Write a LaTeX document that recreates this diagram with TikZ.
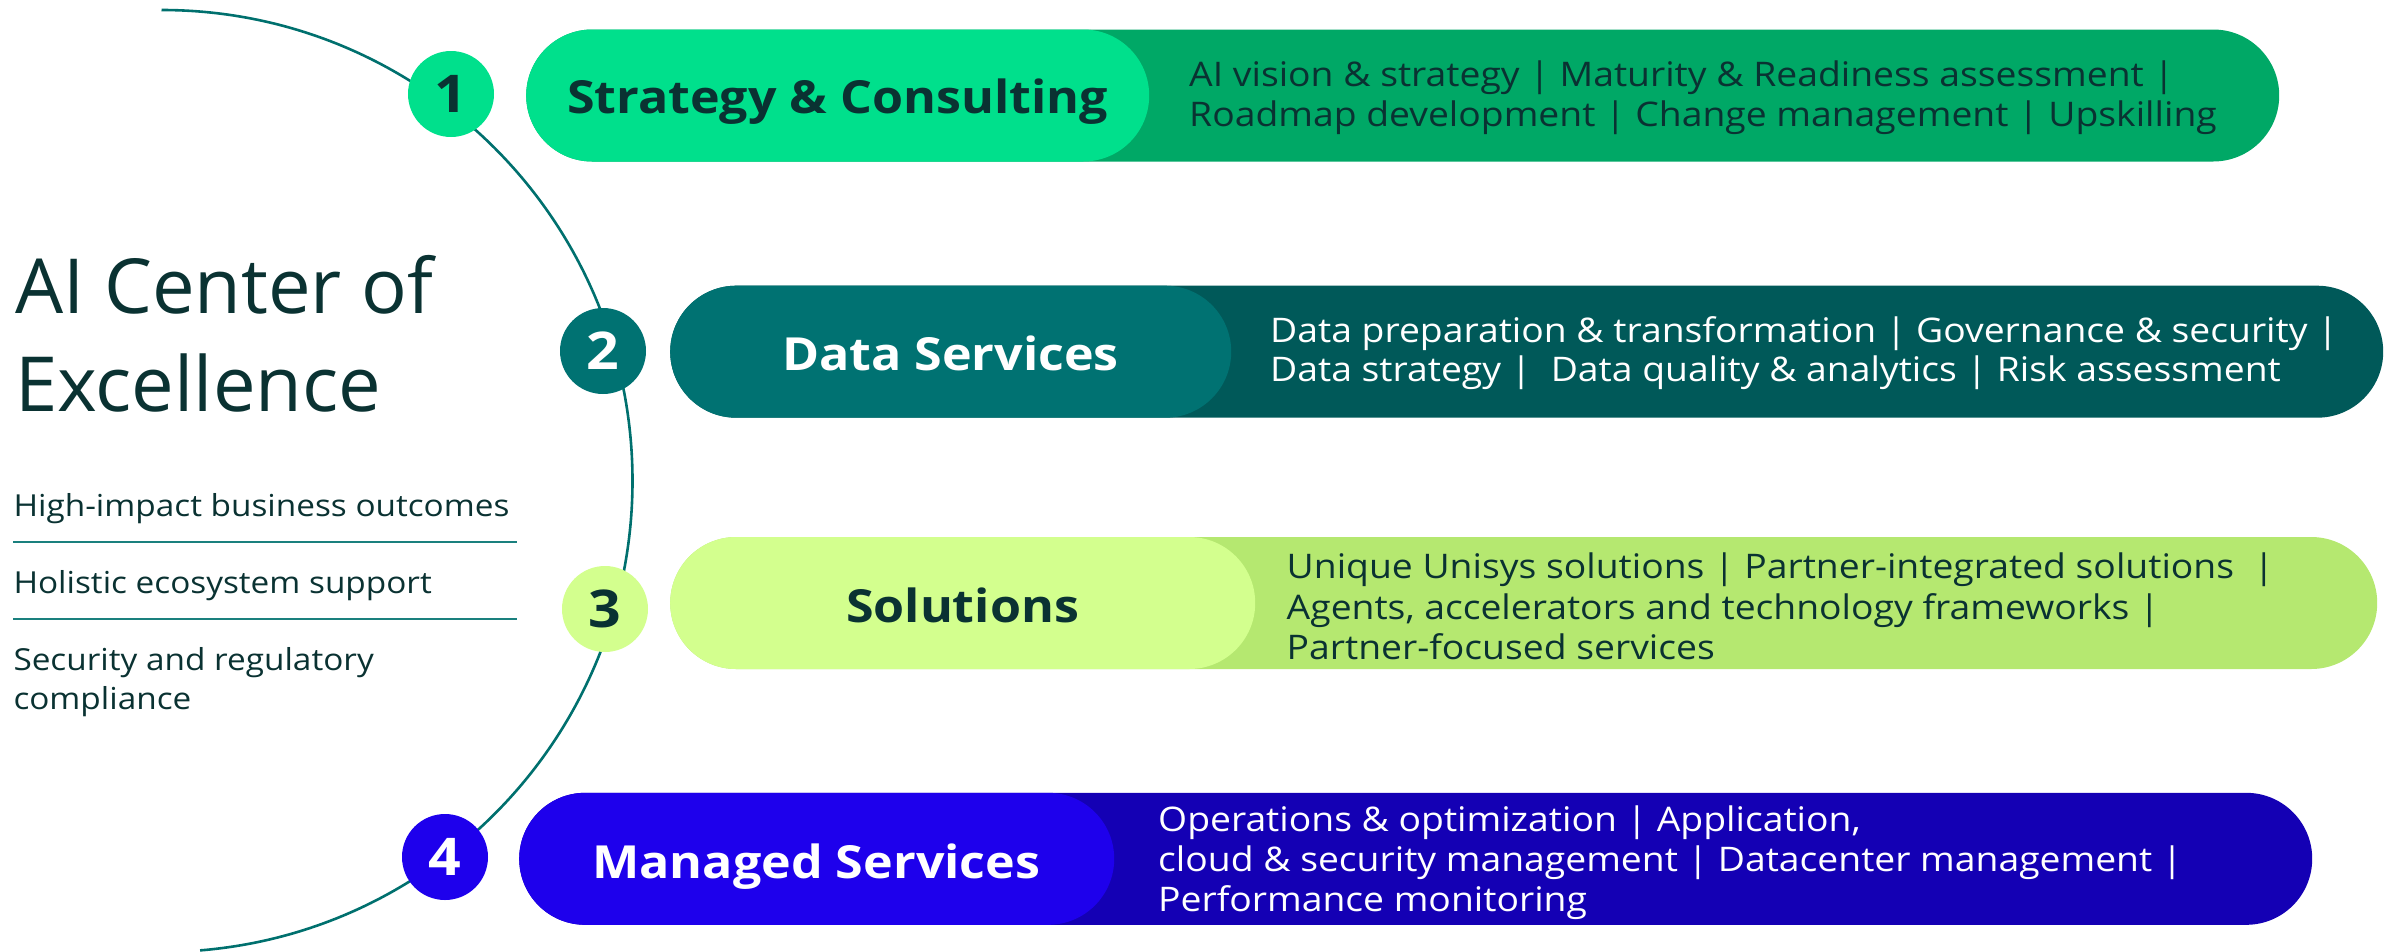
\documentclass[tikz,border=0pt]{standalone}
\usepackage{fontspec}
\setmainfont{Open Sans}[FakeStretch=1.1]
\newfontfamily\titlefont{Open Sans}
\definecolor{inkc}{HTML}{0A3232}
\definecolor{arcc}{HTML}{00706E}
\definecolor{sepc}{HTML}{1A807E}
\definecolor{gl}{HTML}{00E08C}
\definecolor{gd}{HTML}{00A866}
\definecolor{tl}{HTML}{007272}
\definecolor{td}{HTML}{005959}
\definecolor{ll}{HTML}{D3FF8E}
\definecolor{ld}{HTML}{B5E870}
\definecolor{bl}{HTML}{1E00EC}
\definecolor{bd}{HTML}{1400B4}
\begin{document}
\begin{tikzpicture}[x=1pt,y=-1pt,
  pill/.style={rectangle, rounded corners=66pt, minimum height=132pt, inner sep=0pt, anchor=west, draw=none},
  numc/.style={circle, minimum size=86pt, inner sep=0pt, font=\fontsize{52}{52}\selectfont\bfseries},
  lbl/.style={anchor=base, inner sep=0pt, font=\fontsize{45.6}{46}\selectfont\bfseries},
  body/.style={anchor=base west, inner sep=0pt, font=\fontsize{33.9}{40}\selectfont},
  side/.style={anchor=base west, inner sep=0pt, text=inkc, font=\fontsize{30.3}{34}\selectfont},
  big/.style={anchor=base west, inner sep=0pt, text=inkc, font=\titlefont\fontsize{76}{80}\selectfont},
  sepline/.style={draw=sepc, line width=2pt}
]
\useasboundingbox (0,0) rectangle (2400,951);
% arc
\draw[arcc, line width=2.6pt] (161.5,481) ++(-90:471) arc (-90:85.3:471);
% pills
\node[pill, fill=gd, minimum width=1753pt] (p1d) at (526,95.5) {};
\node[pill, fill=gl, minimum width=623pt] (p1l) at (526,95.5) {};
\node[pill, fill=td, minimum width=1713pt] (p2d) at (670,351.7) {};
\node[pill, fill=tl, minimum width=561pt] (p2l) at (670,351.7) {};
\node[pill, fill=ld, minimum width=1707pt] (p3d) at (670,603) {};
\node[pill, fill=ll, minimum width=585pt] (p3l) at (670,603) {};
\node[pill, fill=bd, minimum width=1793pt] (p4d) at (519,858.8) {};
\node[pill, fill=bl, minimum width=595pt] (p4l) at (519,858.8) {};
% number circles
\node[numc, fill=gl, text=inkc] (n1) at (451,94) {1};
\node[numc, fill=tl, text=white] (n2) at (603,351) {2};
\node[numc, fill=ll, text=inkc] (n3) at (605,609) {3};
\node[numc, fill=bl, text=white] (n4) at (445,857) {4};
% labels
\node[lbl, text=inkc] (l1) at (837.5,113.3) {Strategy \& Consulting};
\node[lbl, text=white] (l2) at (950.5,370) {Data Services};
\node[lbl, text=inkc] (l3) at (962.5,622.7) {Solutions};
\node[lbl, text=white] (l4) at (816.3,878.3) {Managed Services};
% body texts
\node[body, text=inkc] (b1a) at (1189,86.7) {AI vision \& strategy | Maturity \& Readiness assessment |};
\node[body, text=inkc] (b1b) at (1189,126) {Roadmap development | Change management | Upskilling};
\node[body, text=white] (b2a) at (1270,342) {Data preparation \& transformation | Governance \& security |};
\node[body, text=white] (b2b) at (1270,381.7) {Data strategy |\ \ Data quality \& analytics | Risk assessment};
\node[body, text=inkc] (b3a) at (1286.5,578.3) {Unique Unisys solutions | Partner-integrated solutions\ \ |};
\node[body, text=inkc] (b3b) at (1286.5,619) {Agents, accelerators and technology frameworks |};
\node[body, text=inkc] (b3c) at (1286.5,659.3) {Partner-focused services};
\node[body, text=white] (b4a) at (1158,831) {Operations \& optimization | Application,};
\node[body, text=white] (b4b) at (1158,871.7) {cloud \& security management | Datacenter management |};
\node[body, text=white] (b4c) at (1158,911.7) {Performance monitoring};
% left side
\node[big] (h1) at (15,313.3) {AI Center of};
\node[big] (h2) at (15,411.7) {Excellence};
\node[side] (s1) at (13.3,516.7) {High-impact business outcomes};
\draw[sepline] (13.3,542.3) -- (517,542.3);
\node[side] (s2) at (13.3,593.3) {Holistic ecosystem support};
\draw[sepline] (13.3,619.3) -- (517,619.3);
\node[side] (s3) at (13.3,670) {Security and regulatory};
\node[side] (s4) at (13.3,709.3) {compliance};
\end{tikzpicture}
\end{document}
